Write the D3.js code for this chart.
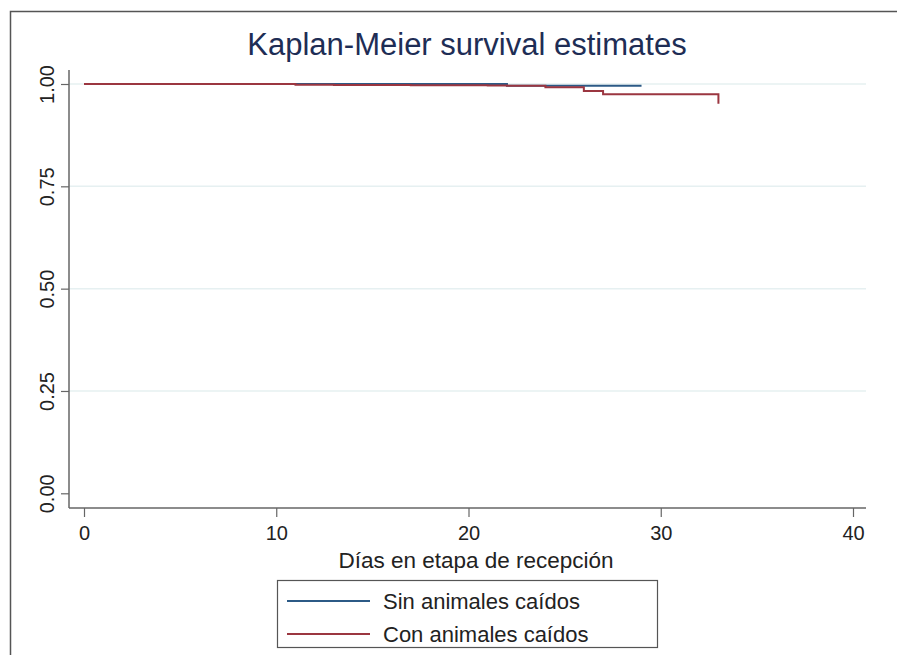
<!DOCTYPE html>
<html>
<head>
<meta charset="utf-8">
<script src="https://cdn.jsdelivr.net/npm/d3@7"></script>
<style>
  html, body { margin: 0; padding: 0; background: #fff; overflow: hidden; }
  svg { display: block; font-family: "Liberation Sans", Arial, sans-serif; }
</style>
</head>
<body>
<svg id="chart" width="897" height="655"></svg>
<script>
// Kaplan-Meier step estimates per group: time (days) and survival after each step
const sinDays = [0, 22, 29];
const sinSurv = [1.000, 0.996, 0.996];
const conDays = [0, 11, 13, 17, 21, 22, 24, 26, 27, 33];
const conSurv = [1.000, 0.998, 0.9975, 0.997, 0.9965, 0.996, 0.992, 0.983, 0.975, 0.952];

const xTicks = [0, 10, 20, 30, 40];
const yTicks = [0, 0.25, 0.5, 0.75, 1];
const yTickLabels = ["0.00", "0.25", "0.50", "0.75", "1.00"];
const seriesNames = ["Sin animales caídos", "Con animales caídos"];
const seriesColors = ["#2c5a86", "#9b3640"];

const titleText = "Kaplan-Meier survival estimates";
const xTitle = "Días en etapa de recepción";

const svg = d3.select("#chart");

// outer graph frame (runs past the right and bottom edges)
svg.append("path")
  .attr("d", "M 897 11.5 H 10.5 V 655")
  .attr("fill", "none").attr("stroke", "#555").attr("stroke-width", 1.5);

const x = d3.scaleLinear().domain([0, 40]).range([84, 853]);
const y = d3.scaleLinear().domain([0, 1]).range([493.3, 84]);
const plotLeft = 69, plotRight = 866, plotBottom = 508, plotTop = 70;

// horizontal grid
svg.append("g").selectAll("line")
  .data(yTicks.filter(d => d > 0))
  .join("line")
  .attr("x1", plotLeft).attr("x2", plotRight)
  .attr("y1", d => y(d)).attr("y2", d => y(d))
  .attr("stroke", "#e6f0f1").attr("stroke-width", 1.5);

// y axis
const yAxis = svg.append("g").attr("transform", `translate(${plotLeft},0)`)
  .call(d3.axisLeft(y).tickValues(yTicks).tickFormat((d, i) => yTickLabels[i]).tickSize(8).tickPadding(6));
yAxis.select(".domain").remove();
yAxis.append("line").attr("x1", 0).attr("x2", 0).attr("y1", plotTop).attr("y2", plotBottom)
  .attr("stroke", "#666").attr("stroke-width", 1.5);
yAxis.selectAll(".tick line").attr("stroke", "#666").attr("stroke-width", 1.2);
yAxis.selectAll(".tick text")
  .attr("font-size", 20).attr("fill", "#222")
  .attr("text-anchor", "middle")
  .attr("x", null).attr("dy", null)
  .attr("transform", "translate(-15,0) rotate(-90)")
  .attr("y", 0);

// x axis
const xAxis = svg.append("g").attr("transform", `translate(0,${plotBottom})`)
  .call(d3.axisBottom(x).tickValues(xTicks).tickSize(9).tickPadding(9));
xAxis.select(".domain").remove();
xAxis.append("line").attr("x1", plotLeft).attr("x2", plotRight).attr("y1", 0).attr("y2", 0)
  .attr("stroke", "#666").attr("stroke-width", 1.5);
xAxis.selectAll(".tick line").attr("stroke", "#666").attr("stroke-width", 1.2);
xAxis.selectAll(".tick text").attr("font-size", 20).attr("fill", "#222");

// step curves
const stepLine = d3.line().x(d => x(d[0])).y(d => y(d[1])).curve(d3.curveStepAfter);
const series = [
  d3.zip(sinDays, sinSurv),
  d3.zip(conDays, conSurv)
];
series.forEach((pts, i) => {
  svg.append("path")
    .datum(pts)
    .attr("d", stepLine)
    .attr("fill", "none")
    .attr("stroke", seriesColors[i])
    .attr("stroke-width", 2);
});

// title
svg.append("text")
  .attr("x", 467).attr("y", 55)
  .attr("text-anchor", "middle")
  .attr("font-size", 31).attr("fill", "#1e2d55")
  .text(titleText);

// x axis title
svg.append("text")
  .attr("x", 476).attr("y", 568)
  .attr("text-anchor", "middle")
  .attr("font-size", 22.5).attr("fill", "#222")
  .text(xTitle);

// legend
const legend = svg.append("g");
legend.append("rect")
  .attr("x", 277.5).attr("y", 580.5).attr("width", 380).attr("height", 67)
  .attr("fill", "#fff").attr("stroke", "#555").attr("stroke-width", 1.2);
seriesNames.forEach((name, i) => {
  const ly = 601 + i * 33;
  legend.append("line")
    .attr("x1", 287).attr("x2", 370).attr("y1", ly).attr("y2", ly)
    .attr("stroke", seriesColors[i]).attr("stroke-width", 2);
  legend.append("text")
    .attr("x", 383).attr("y", ly + 7.5)
    .attr("font-size", 22).attr("fill", "#222")
    .text(name);
});
</script>
</body>
</html>
